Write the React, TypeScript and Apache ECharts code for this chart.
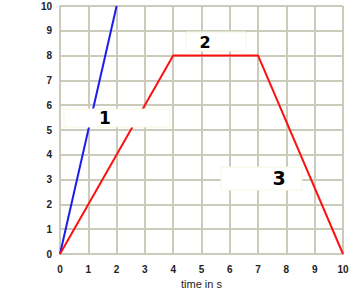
import React, { useEffect, useRef } from "react";
import * as echarts from "echarts";

const xTicks = [0, 1, 2, 3, 4, 5, 6, 7, 8, 9, 10];
const blueT = [0, 2];
const blueD = [0, 10];
const redT = [0, 4, 7, 10];
const redD = [0, 8, 8, 0];
const labels = ["1", "2", "3"];

export default function App() {
  const ref = useRef<HTMLDivElement>(null);
  useEffect(() => {
    document.body.style.margin = "0";
    const chart = echarts.init(ref.current!, null, { renderer: "svg" });
    const gridColor = "#cbcbbc";
    const axisLabel = {
      color: "#222",
      fontWeight: "bold" as const,
      fontSize: 10,
      fontFamily: "Liberation Sans, Arial, sans-serif",
    };
    const box = (x: number, y: number, w: number, h: number) => ({
      type: "rect",
      z: 100,
      shape: { x, y, width: w, height: h },
      style: { fill: "#ffffff", stroke: "#f6f6e0", lineWidth: 1 },
    });
    const txt = (x: number, y: number, t: string, size: number) => ({
      type: "text",
      z: 101,
      x,
      y,
      style: {
        text: t,
        fill: "#000",
        font: `bold ${size}px "DejaVu Sans", sans-serif`,
        textAlign: "center",
        textVerticalAlign: "middle",
      },
    });
    chart.setOption({
      animation: false,
      backgroundColor: "#ffffff",
      grid: {
        left: 60,
        right: 13,
        top: 6,
        bottom: 36,
        containLabel: false,
        outerBoundsMode: "none",
      },
      xAxis: {
        type: "value",
        min: 0,
        max: 10,
        interval: 1,
        name: "time in s",
        nameLocation: "middle",
        nameGap: 21,
        nameTextStyle: { color: "#222", fontSize: 11, fontFamily: "Liberation Sans, Arial, sans-serif" },
        axisLine: { show: true, lineStyle: { color: gridColor, width: 2 } },
        axisTick: { show: false },
        axisLabel: { ...axisLabel, margin: 10 },
        splitLine: { show: true, lineStyle: { color: gridColor, width: 2 } },
      },
      yAxis: {
        type: "value",
        min: 0,
        max: 10,
        interval: 1,
        axisLine: { show: true, lineStyle: { color: gridColor, width: 2 } },
        axisTick: { show: false },
        axisLabel: { ...axisLabel, margin: 8 },
        splitLine: { show: true, lineStyle: { color: gridColor, width: 2 } },
      },
      series: [
        {
          type: "line",
          data: blueT.map((t, i) => [t, blueD[i]]),
          symbol: "none",
          lineStyle: { color: "#1c1cf0", width: 2 },
        },
        {
          type: "line",
          data: redT.map((t, i) => [t, redD[i]]),
          symbol: "none",
          lineStyle: { color: "#ff1010", width: 2 },
        },
      ],
      graphic: [
        box(64, 109, 106, 18),
        txt(105, 118, labels[0], 17),
        box(186, 32, 60, 19),
        txt(205, 42, labels[1], 16),
        box(221, 167, 81, 23),
        txt(279, 178, labels[2], 19),
      ],
    });
    return () => chart.dispose();
  }, []);
  return (
    <div
      ref={ref}
      style={{ position: "fixed", left: 0, top: 0, width: 356, height: 290 }}
    />
  );
}
